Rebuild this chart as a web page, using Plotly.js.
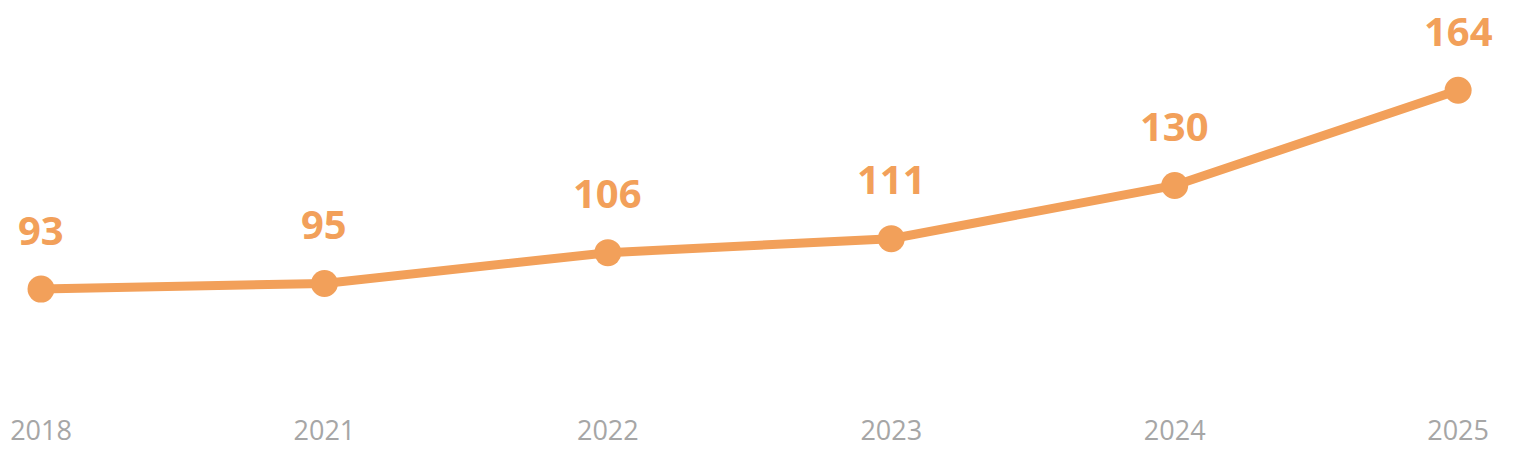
<!DOCTYPE html>
<html>
<head>
<meta charset="utf-8">
<script src="https://cdn.plot.ly/plotly-3.0.1.min.js"></script>
<style>
  html, body { margin: 0; padding: 0; background: #fff; }
  #chart { width: 1525px; height: 463px; }
</style>
</head>
<body>
<div id="chart"></div>
<script>
// gögnin
let years = ['2018', '2021', '2022', '2023', '2024', '2025'];
let values = [93, 95, 106, 111, 130, 164];

let orange = '#F2A05A';

let trace = {
  x: years,
  y: values,
  type: 'scatter',
  mode: 'lines+markers',
  line: { color: orange, width: 9 },
  marker: { color: orange, size: 27 },
  hoverinfo: 'skip',
};

// gildin fyrir ofan punktana
let annotations = values.map((v, i) => ({
  xref: 'x',
  yref: 'y',
  x: i,
  y: v,
  text: '<b>' + v + '</b>',
  showarrow: false,
  yanchor: 'middle',
  yshift: 60,
  font: { family: 'Open Sans', size: 40, color: orange },
}));

let layout = {
  width: 1525,
  height: 463,
  margin: { l: 0, r: 0, t: 0, b: 63 },
  paper_bgcolor: '#fff',
  plot_bgcolor: '#fff',
  showlegend: false,
  xaxis: {
    type: 'category',
    range: [-0.1447, 5.236],
    showgrid: false,
    zeroline: false,
    showline: false,
    ticks: 'outside',
    ticklen: 7,
    tickcolor: 'rgba(0,0,0,0)',
    tickfont: { family: 'Open Sans', size: 27, color: '#A6A6A6' },
    fixedrange: true,
  },
  yaxis: {
    range: [53.4, 196.2],
    visible: false,
    fixedrange: true,
  },
  annotations: annotations,
};

Plotly.newPlot('chart', [trace], layout, { displayModeBar: false });
</script>
</body>
</html>
